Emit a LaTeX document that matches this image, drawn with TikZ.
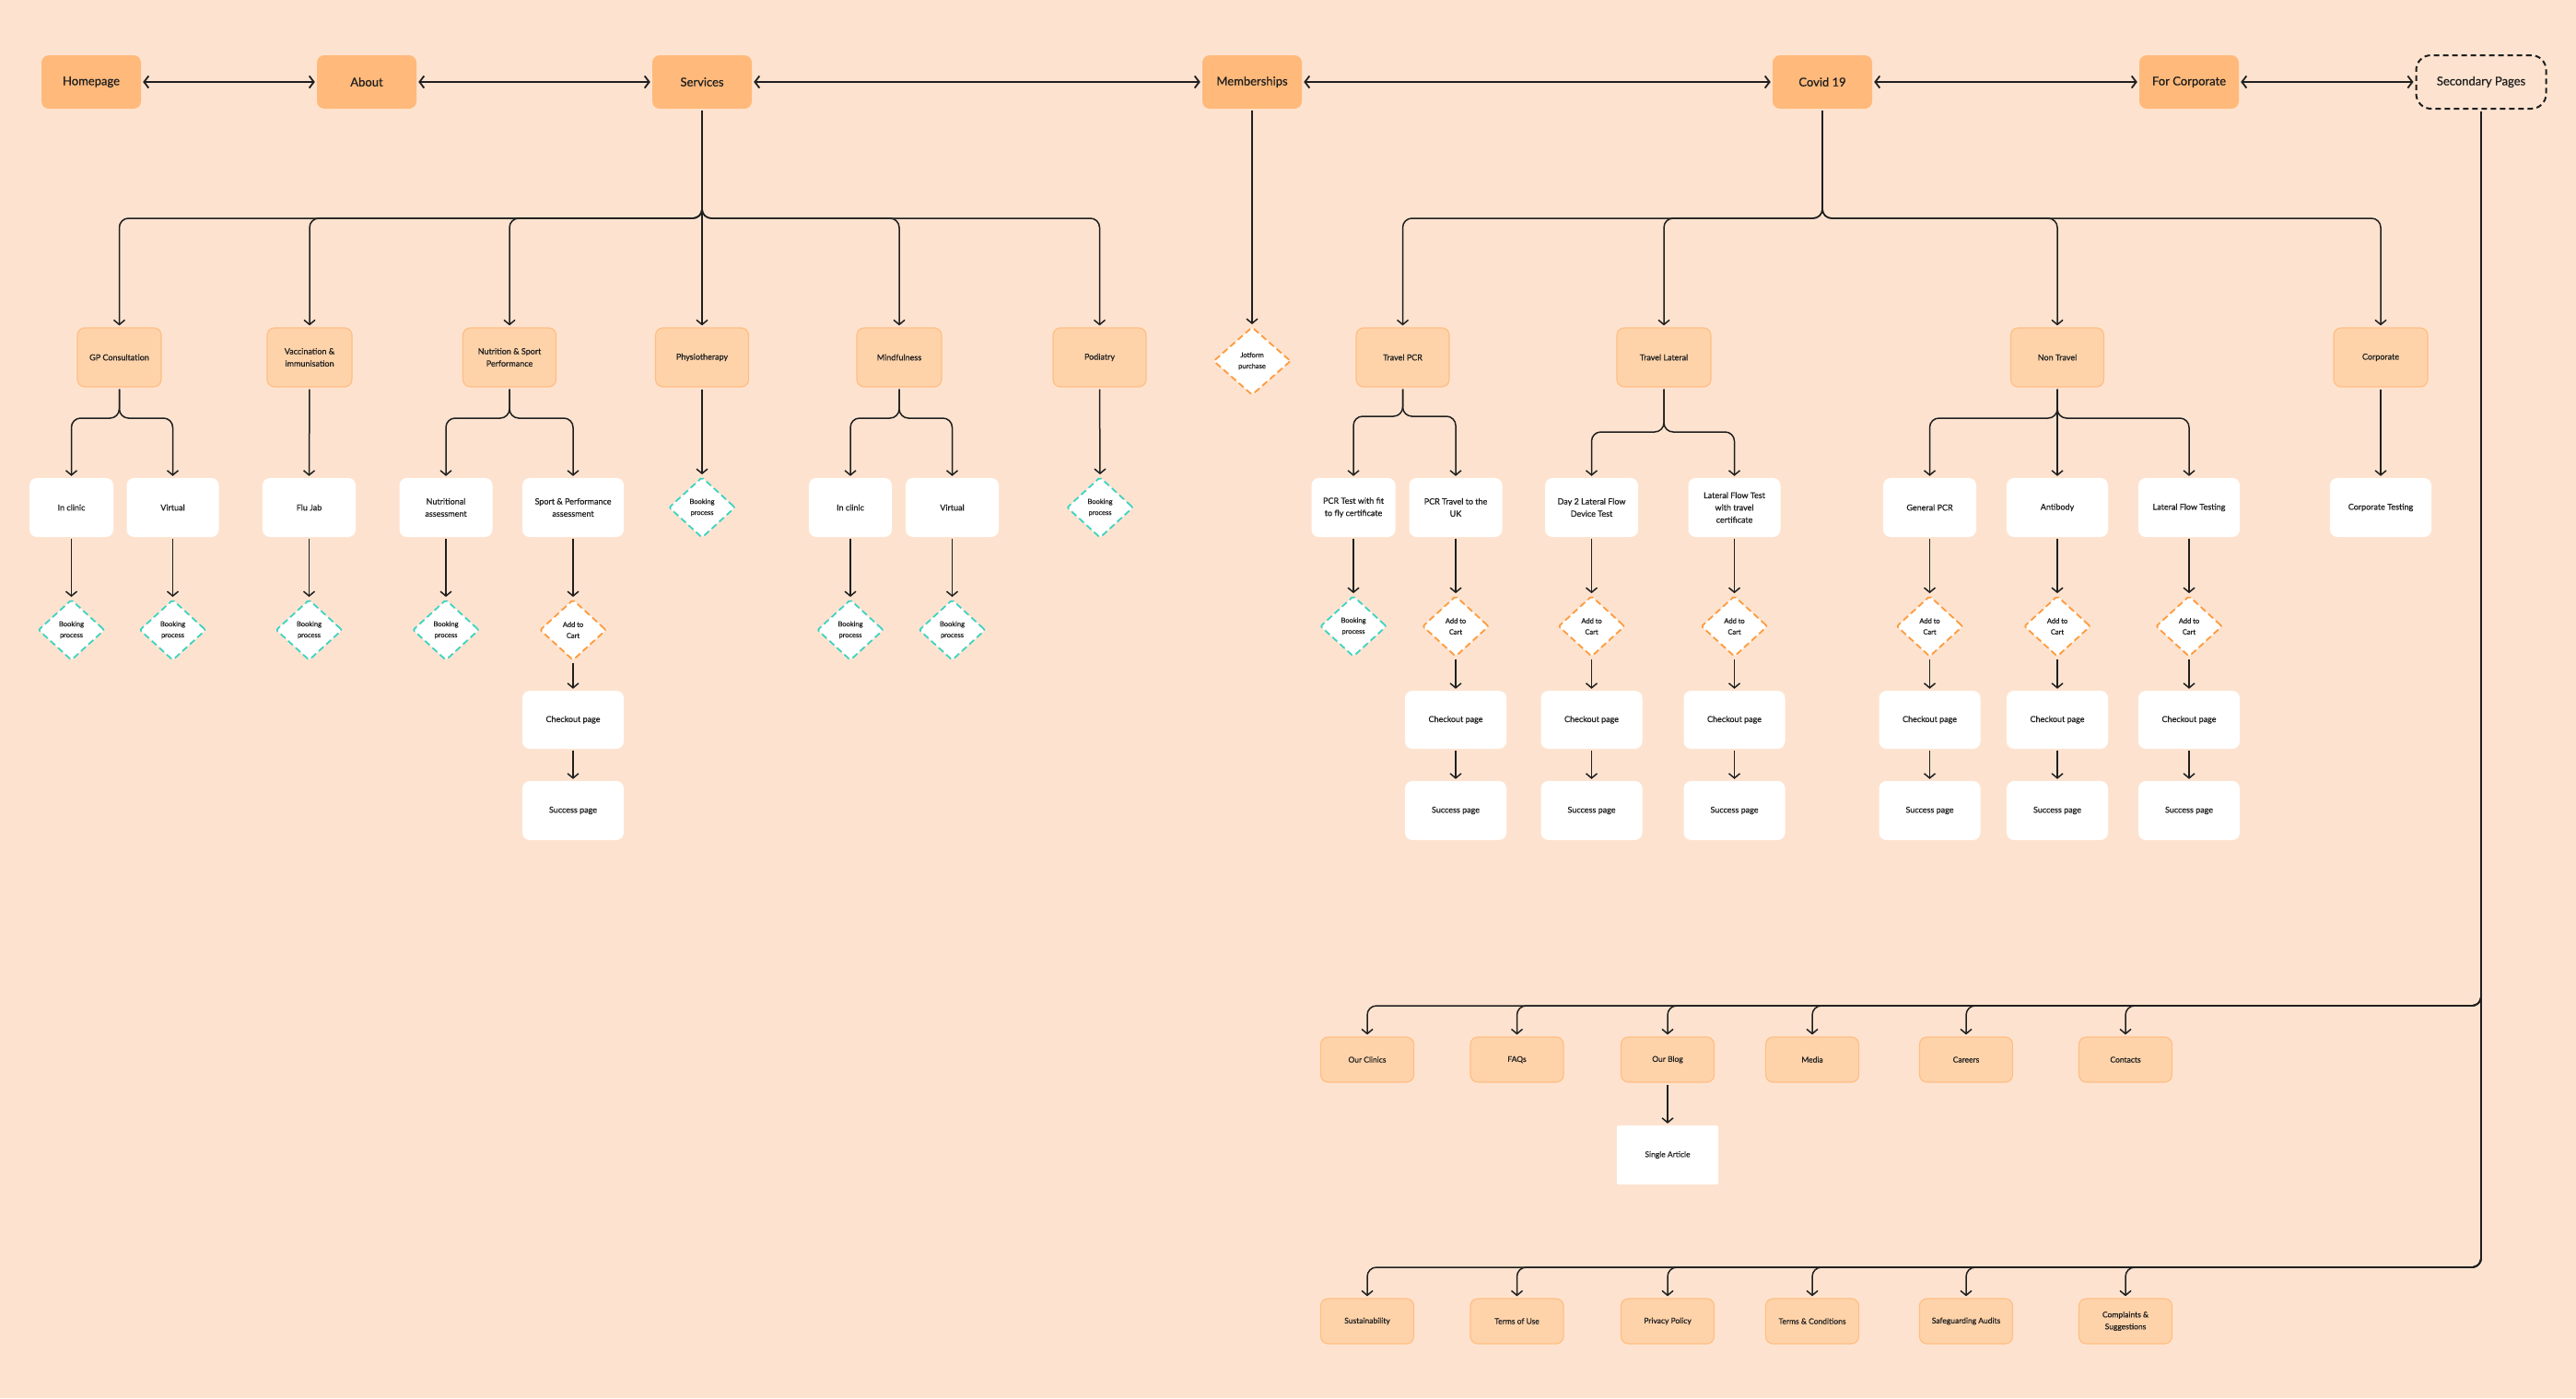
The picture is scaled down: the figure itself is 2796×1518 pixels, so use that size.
\documentclass[tikz,border=0pt]{standalone}
\usepackage{fontspec}
\setmainfont{Lato}[FakeBold=0.6]
\usetikzlibrary{shapes.geometric,arrows.meta}
\definecolor{bgpeach}{HTML}{FDE3CF}
\definecolor{topfill}{HTML}{FFB97A}
\definecolor{catfill}{HTML}{FFD3AA}
\definecolor{catstroke}{HTML}{FFBE84}
\definecolor{bookteal}{HTML}{3DD3C1}
\definecolor{cartorange}{HTML}{FF9A3C}
\definecolor{ink}{HTML}{1F1F1F}
\begin{document}
\begin{tikzpicture}[x=1pt,y=-1pt,
  base/.style={inner sep=0pt, align=center, text=ink},
  topbox/.style={base, fill=topfill, rounded corners=8pt, minimum width=108pt, minimum height=58pt, font=\fontsize{13}{16}\selectfont},
  catbox/.style={base, fill=catfill, draw=catstroke, line width=1.2pt, rounded corners=8pt, minimum width=101pt, minimum height=64pt, font=\fontsize{9}{13.3}\selectfont},
  pagebox/.style={base, fill=white, rounded corners=8pt, minimum width=101pt, minimum height=64pt, font=\fontsize{9}{13.3}\selectfont},
  flowbox/.style={pagebox, minimum width=110pt, minimum height=63pt},
  booking/.style={base, diamond, fill=white, draw=bookteal, line width=1.8pt, dash pattern=on 7pt off 4pt, minimum width=72pt, minimum height=66pt, rounded corners=2pt, font=\fontsize{7.5}{12}\selectfont},
  cart/.style={booking, draw=cartorange},
  secbox/.style={catbox, minimum height=49pt, font=\fontsize{8.5}{13}\selectfont},
  conn/.style={draw=ink, line width=1.5pt, rounded corners=10pt, shorten <=2pt, shorten >=2pt, -{Straight Barb[length=5pt,width=12pt]}},
  link/.style={draw=ink, line width=1.8pt, shorten <=2pt, shorten >=2pt, {Straight Barb[length=5pt,width=13pt]}-{Straight Barb[length=5pt,width=13pt]}}
]
\fill[bgpeach] (0,0) rectangle (2796,1518);
\useasboundingbox (0,0) rectangle (2796,1518);

% bus levels
\coordinate (busTop) at (0,237);
\coordinate (busGP) at (0,454);
\coordinate (busTP) at (0,452);
\coordinate (busTL) at (0,469);
\coordinate (busSa) at (0,1092);
\coordinate (busSb) at (0,1376);

% top row
\node[topbox] (home) at (99,89) {Homepage};
\node[topbox] (about) at (398,89) {About};
\node[topbox] (services) at (762,89) {Services};
\node[topbox] (members) at (1359,89) {Memberships};
\node[topbox] (covid) at (1978,89) {Covid 19};
\node[topbox] (forcorp) at (2376,89) {For Corporate};
\node[base, draw=ink, line width=2pt, dash pattern=on 6pt off 4pt, rounded corners=16pt, minimum width=141pt, minimum height=58pt, font=\fontsize{13}{16}\selectfont] (second) at (2693,89) {Secondary Pages};

\draw[link] (home.east) -- (about.west);
\draw[link] (about.east) -- (services.west);
\draw[link] (services.east) -- (members.west);
\draw[link] (members.east) -- (covid.west);
\draw[link] (covid.east) -- (forcorp.west);
\draw[link] (forcorp.east) -- (second.west);

% level 1
\node[catbox, minimum width=91pt] (gp) at (129.5,388) {GP Consultation};
\node[catbox, minimum width=92pt] (vacc) at (336,388) {Vaccination \&\\immunisation};
\node[catbox] (nutr) at (553,388) {Nutrition \& Sport\\Performance};
\node[catbox] (physio) at (762,388) {Physiotherapy};
\node[catbox, minimum width=92pt] (mind) at (976,388) {Mindfulness};
\node[catbox] (podia) at (1193.5,388) {Podiatry};
\node[cart, minimum width=84pt, minimum height=74pt] (jot) at (1359,392) {Jotform\\purchase};
\node[catbox] (tpcr) at (1522.5,388) {Travel PCR};
\node[catbox, minimum width=102pt] (tlat) at (1806,388) {Travel Lateral};
\node[catbox] (nontr) at (2233,388) {Non Travel};
\node[catbox, minimum width=102pt] (corpo) at (2584,388) {Corporate};

\draw[conn] (services.south) -- (services.south |- busTop) -| (gp.north);
\draw[conn] (services.south) -- (services.south |- busTop) -| (vacc.north);
\draw[conn] (services.south) -- (services.south |- busTop) -| (nutr.north);
\draw[conn] (services.south) -- (physio.north);
\draw[conn] (services.south) -- (services.south |- busTop) -| (mind.north);
\draw[conn] (services.south) -- (services.south |- busTop) -| (podia.north);
\draw[conn] (members.south) -- (jot.north);
\draw[conn] (covid.south) -- (covid.south |- busTop) -| (tpcr.north);
\draw[conn] (covid.south) -- (covid.south |- busTop) -| (tlat.north);
\draw[conn] (covid.south) -- (covid.south |- busTop) -| (nontr.north);
\draw[conn] (covid.south) -- (covid.south |- busTop) -| (corpo.north);

% level 2
\node[pagebox, minimum width=91pt] (incA) at (77.5,551) {In clinic};
\node[pagebox, minimum width=100pt] (virA) at (187.5,551) {Virtual};
\node[pagebox] (flu) at (335.5,551) {Flu Jab};
\node[pagebox] (nass) at (484,551) {Nutritional\\assessment};
\node[pagebox, minimum width=110pt] (sport) at (622,551) {Sport \& Performance\\assessment};
\node[booking] (bkPhys) at (762,551) {Booking\\process};
\node[pagebox, minimum width=90pt] (incB) at (923,551) {In clinic};
\node[pagebox] (virB) at (1033.5,551) {Virtual};
\node[booking] (bkPod) at (1194,551) {Booking\\process};
\node[pagebox, minimum width=91pt] (pcrfit) at (1469,551) {PCR Test with fit\\to fly certificate};
\node[pagebox] (pcruk) at (1580,551) {PCR Travel to the\\UK};
\node[pagebox] (day2) at (1727.5,551) {Day 2 Lateral Flow\\Device Test};
\node[pagebox, minimum width=100pt] (lftt) at (1882.5,551) {Lateral Flow Test\\with travel\\certificate};
\node[pagebox] (gpcr) at (2094.5,551) {General PCR};
\node[pagebox, minimum width=110pt] (antib) at (2233,551) {Antibody};
\node[pagebox, minimum width=110pt] (lft) at (2376,551) {Lateral Flow Testing};
\node[pagebox, minimum width=110pt] (corpt) at (2584,551) {Corporate Testing};

\draw[conn] (gp.south) -- (gp.south |- busGP) -| (incA.north);
\draw[conn] (gp.south) -- (gp.south |- busGP) -| (virA.north);
\draw[conn] (vacc.south) -- (flu.north);
\draw[conn] (nutr.south) -- (nutr.south |- busGP) -| (nass.north);
\draw[conn] (nutr.south) -- (nutr.south |- busGP) -| (sport.north);
\draw[conn] (physio.south) -- (bkPhys.north);
\draw[conn] (mind.south) -- (mind.south |- busGP) -| (incB.north);
\draw[conn] (mind.south) -- (mind.south |- busGP) -| (virB.north);
\draw[conn] (podia.south) -- (bkPod.north);
\draw[conn] (tpcr.south) -- (tpcr.south |- busTP) -| (pcrfit.north);
\draw[conn] (tpcr.south) -- (tpcr.south |- busTP) -| (pcruk.north);
\draw[conn] (tlat.south) -- (tlat.south |- busTL) -| (day2.north);
\draw[conn] (tlat.south) -- (tlat.south |- busTL) -| (lftt.north);
\draw[conn] (nontr.south) -- (nontr.south |- busGP) -| (gpcr.north);
\draw[conn] (nontr.south) -- (antib.north);
\draw[conn] (nontr.south) -- (nontr.south |- busGP) -| (lft.north);
\draw[conn] (corpo.south) -- (corpt.north);

% level 3 (left)
\node[booking] (bkA) at (77.5,684) {Booking\\process};
\node[booking] (bkB) at (187.5,684) {Booking\\process};
\node[booking] (bkC) at (335.5,684) {Booking\\process};
\node[booking] (bkD) at (484,684) {Booking\\process};
\node[cart] (ctA) at (622,684) {Add to\\Cart};
\node[booking] (bkE) at (923,684) {Booking\\process};
\node[booking] (bkF) at (1033.5,684) {Booking\\process};
% level 3 (right)
\node[booking] (bkG) at (1469,680) {Booking\\process};
\node[cart] (ctB) at (1580,680) {Add to\\Cart};
\node[cart] (ctC) at (1727.5,680) {Add to\\Cart};
\node[cart] (ctD) at (1882.5,680) {Add to\\Cart};
\node[cart] (ctE) at (2094.5,680) {Add to\\Cart};
\node[cart] (ctF) at (2233,680) {Add to\\Cart};
\node[cart] (ctG) at (2376,680) {Add to\\Cart};

\draw[conn] (incA.south) -- (bkA.north);
\draw[conn] (virA.south) -- (bkB.north);
\draw[conn] (flu.south) -- (bkC.north);
\draw[conn] (nass.south) -- (bkD.north);
\draw[conn] (sport.south) -- (ctA.north);
\draw[conn] (incB.south) -- (bkE.north);
\draw[conn] (virB.south) -- (bkF.north);
\draw[conn] (pcrfit.south) -- (bkG.north);
\draw[conn] (pcruk.south) -- (ctB.north);
\draw[conn] (day2.south) -- (ctC.north);
\draw[conn] (lftt.south) -- (ctD.north);
\draw[conn] (gpcr.south) -- (ctE.north);
\draw[conn] (antib.south) -- (ctF.north);
\draw[conn] (lft.south) -- (ctG.north);

% checkout and success
\foreach \n/\x/\c in {A/622/ctA, B/1580/ctB, C/1727.5/ctC, D/1882.5/ctD, E/2094.5/ctE, F/2233/ctF, G/2376/ctG}{
  \node[flowbox] (co\n) at (\x,781.5) {Checkout page};
  \node[flowbox, minimum height=64pt] (su\n) at (\x,880) {Success page};
  \draw[conn] (\c.south) -- (co\n.north);
  \draw[conn] (co\n.south) -- (su\n.north);
}

% secondary pages
\node[secbox] (clinics) at (1484,1150.5) {Our Clinics};
\node[secbox] (faqs) at (1646.5,1150.5) {FAQs};
\node[secbox] (blog) at (1810,1150.5) {Our Blog};
\node[secbox] (media) at (1967,1150.5) {Media};
\node[secbox] (careers) at (2134,1150.5) {Careers};
\node[secbox] (contacts) at (2307,1150.5) {Contacts};
\node[pagebox, rounded corners=2pt, minimum width=110pt, font=\fontsize{8.5}{13}\selectfont] (article) at (1810,1254) {Single Article};

\node[secbox] (sustain) at (1484,1434.5) {Sustainability};
\node[secbox] (terms) at (1646.5,1434.5) {Terms of Use};
\node[secbox] (privacy) at (1810,1434.5) {Privacy Policy};
\node[secbox] (tandc) at (1967,1434.5) {Terms \& Conditions};
\node[secbox] (safeg) at (2134,1434.5) {Safeguarding Audits};
\node[secbox] (complaints) at (2307,1434.5) {Complaints \&\\Suggestions};

\foreach \t in {clinics,faqs,blog,media,careers,contacts}{
  \draw[conn] (second.south) -- (second.south |- busSa) -| (\t.north);
}
\foreach \t in {sustain,terms,privacy,tandc,safeg,complaints}{
  \draw[conn] (second.south) -- (second.south |- busSb) -| (\t.north);
}
\draw[conn] (blog.south) -- (article.north);
\end{tikzpicture}
\end{document}
